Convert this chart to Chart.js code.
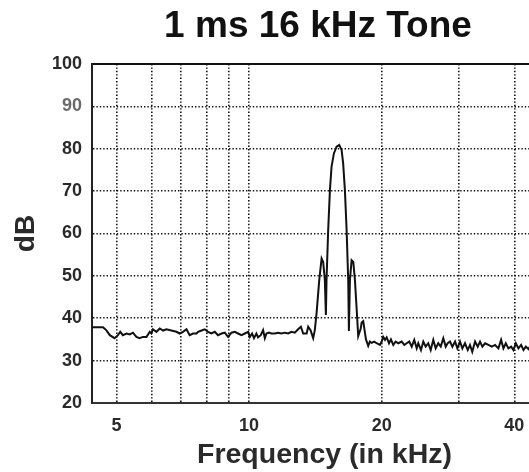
<!DOCTYPE html>
<html>
<head>
<meta charset="utf-8">
<title>1 ms 16 kHz Tone</title>
<script src="https://cdn.jsdelivr.net/npm/chart.js@4.4.1/dist/chart.umd.min.js"></script>
<style>
    html, body { margin: 0; padding: 0; background: #fff; overflow: hidden; }
    .containerGraphic { position: relative; width: 636px; height: 472px; }
</style>
</head>
<body>
<div class="containerGraphic">
    <canvas id="toneChart" width="636" height="472"></canvas>
</div>
<script>
// spectrum of the 1 ms tone burst (frequency in kHz, level in dB)
const freqKHz = [
    4.4, 4.66, 4.74, 4.83, 4.95, 5.04, 5.10, 5.17, 5.27, 5.36, 5.45, 5.55, 5.64, 5.74, 5.85, 5.95,
    6.00, 6.05, 6.16, 6.27, 6.38, 6.49, 6.66, 6.84, 6.96, 7.08, 7.21, 7.33, 7.46, 7.60, 7.66, 7.80,
    7.93, 8.07, 8.21, 8.36, 8.50, 8.66, 8.81, 8.96, 9.12, 9.28, 9.44, 9.61, 9.78, 9.95, 10.04, 10.16,
    10.26, 10.39, 10.48, 10.63, 10.76, 10.86, 10.95, 11.09, 11.24, 11.44, 11.64, 11.85, 12.05, 12.27,
    12.48, 12.70, 12.92, 13.11, 13.27, 13.51, 13.62, 13.79, 13.98, 14.10, 14.23, 14.43, 14.61, 14.73,
    14.86, 14.94, 14.99, 15.12, 15.26, 15.39, 15.58, 15.80, 16.02, 16.22, 16.35, 16.50, 16.65, 16.79,
    16.85, 16.94, 17.09, 17.24, 17.39, 17.55, 17.69, 17.92, 18.01, 18.16, 18.42, 18.64, 18.80, 18.97,
    19.23, 19.48, 19.82, 20.00, 20.16, 20.35, 20.53, 20.78, 20.99, 21.25, 21.51, 21.81, 22.20, 22.51,
    22.79, 23.10, 23.40, 23.71, 24.02, 24.22, 24.56, 24.86, 25.17, 25.51, 25.84, 26.19, 26.52, 26.88,
    27.23, 27.60, 27.95, 28.24, 28.58, 28.94, 29.35, 29.70, 30.12, 30.49, 30.91, 31.36, 31.73, 32.11,
    32.58, 33.04, 33.44, 33.85, 34.34, 34.94, 35.56, 36.18, 36.81, 37.33, 37.79, 38.26, 38.79, 39.35,
    39.81, 40.32, 40.87, 41.45, 41.96, 42.49, 43.07, 43.7, 44.4, 45.1, 45.9, 46.7, 47.5, 48.3, 49.2, 50
];
const levelDb = [
    37.9, 37.9, 37.2, 36.0, 35.3, 36.0, 36.8, 36.0, 36.4, 36.2, 36.6, 35.6, 35.3, 35.6, 35.6, 36.8,
    36.4, 37.4, 36.8, 37.6, 37.1, 37.4, 37.1, 36.8, 36.4, 36.8, 37.4, 36.0, 36.4, 36.4, 36.8, 37.1,
    37.4, 36.8, 36.4, 36.8, 36.0, 36.4, 36.6, 35.6, 36.6, 36.8, 36.4, 36.0, 36.4, 36.8, 35.6, 36.4,
    35.3, 36.4, 35.5, 36.0, 37.2, 35.3, 36.4, 36.6, 36.4, 36.4, 36.6, 36.4, 36.6, 36.4,
    36.8, 36.6, 37.4, 38.0, 36.4, 36.4, 38.0, 37.2, 35.3, 37.2, 41.2, 49.0, 54.1, 53.3,
    49.0, 40.8, 49.0, 60.8, 70.3, 75.8, 78.9, 80.5, 80.9, 79.7, 76.6, 70.3, 60.8, 49.0,
    37.0, 49.0, 53.7, 53.3, 49.0, 42.0, 35.8, 37.5, 39.0, 39.3, 35.0, 33.5, 34.5, 34.2,
    34.5, 34.1, 33.7, 34.5, 35.6, 34.9, 35.5, 34.1, 35.0, 33.7, 34.5, 34.1, 34.5, 33.7,
    34.1, 34.5, 33.3, 34.9, 32.9, 34.1, 32.5, 34.5, 33.3, 34.1, 32.5, 34.9, 32.9, 34.1,
    33.3, 35.3, 33.3, 34.1, 34.5, 33.3, 34.5, 32.9, 34.5, 32.9, 34.1, 32.5, 33.7, 32.1,
    34.5, 33.3, 34.5, 33.3, 34.1, 33.7, 33.3, 33.7, 32.9, 34.9, 32.9, 34.1, 32.9, 33.3,
    32.5, 34.1, 32.9, 33.7, 32.5, 33.3, 32.7, 33.9, 32.8, 33.6, 32.6, 33.5, 32.7, 33.4, 32.8, 33.2
];

// vertical grid lines and which of them carry a label
const xGridTicks = [5, 6, 7, 8, 9, 10, 20, 30, 40, 50];
const xTickLabels = [5, 10, 20, 40];
const yTicks = [20, 30, 40, 50, 60, 70, 80, 90, 100];

const chartTitle = '1 ms 16 kHz Tone';
const fontFamily = "'Liberation Sans', Arial, sans-serif";
const dots = [1.4, 2];

const points = freqKHz.map((f, i) => ({ x: f, y: levelDb[i] }));

// heading centred on the whole canvas
const headingPlugin = {
    id: 'heading',
    afterDraw(chart) {
        const c = chart.ctx;
        c.save();
        c.font = `bold 37px ${fontFamily}`;
        c.fillStyle = '#111';
        c.textAlign = 'center';
        c.textBaseline = 'alphabetic';
        c.fillText(chartTitle, chart.width / 2, 37);
        c.restore();
    }
};

const ctx = document.getElementById('toneChart').getContext('2d');

new Chart(ctx, {
    type: 'scatter',
    data: {
        datasets: [{
            data: points,
            showLine: true,
            borderColor: '#111',
            borderWidth: 2,
            pointRadius: 0,
            tension: 0
        }]
    },
    options: {
        responsive: false,
        animation: false,
        devicePixelRatio: 1,
        layout: { padding: { left: 0, right: 79, top: 64, bottom: 0 } },
        plugins: {
            legend: { display: false },
            tooltip: { enabled: false },
            title: { display: false }
        },
        scales: {
            x: {
                type: 'logarithmic',
                min: 4.4,
                max: 50,
                afterBuildTicks: scale => {
                    scale.ticks = xGridTicks.map(v => ({ value: v }));
                },
                afterFit: scale => { scale.height = 69; },
                ticks: {
                    autoSkip: false,
                    maxRotation: 0,
                    padding: 12,
                    color: '#2a2a2a',
                    font: { family: fontFamily, size: 18, weight: 'bold' },
                    callback: value => xTickLabels.includes(value) ? String(value) : ''
                },
                grid: {
                    drawTicks: false,
                    color: c => c.tick && c.tick.value === 50 ? 'rgba(0,0,0,0)' : '#111',
                    lineWidth: 1.6
                },
                border: { display: true, color: '#333', width: 2, dash: dots },
                title: {
                    display: true,
                    text: 'Frequency (in kHz)',
                    color: '#2a2a2a',
                    font: { family: fontFamily, size: 28.5, weight: 'bold' },
                    padding: { top: 0, bottom: 0 }
                }
            },
            xTop: {
                type: 'logarithmic',
                position: 'top',
                min: 4.4,
                max: 50,
                afterFit: scale => { scale.height = 0; },
                ticks: { display: false },
                grid: { display: false, drawTicks: false },
                border: { display: true, color: '#111', width: 2 }
            },
            y: {
                min: 20,
                max: 100,
                afterBuildTicks: scale => {
                    scale.ticks = yTicks.map(v => ({ value: v }));
                },
                afterFit: scale => { scale.width = 92; },
                ticks: {
                    padding: 10,
                    color: c => c.tick.value === 90 ? '#6b6b6b' : '#2a2a2a',
                    font: { family: fontFamily, size: 18, weight: 'bold' }
                },
                grid: {
                    drawTicks: false,
                    color: c => (c.tick && (c.tick.value === 20 || c.tick.value === 100)) ? 'rgba(0,0,0,0)' : '#111',
                    lineWidth: 1.6
                },
                border: { display: true, color: '#222', width: 2, dash: dots },
                title: {
                    display: true,
                    text: 'dB',
                    color: '#2a2a2a',
                    font: { family: fontFamily, size: 28, weight: 'bold' },
                    padding: { top: 9, bottom: 0 }
                }
            }
        }
    },
    plugins: [headingPlugin]
});
</script>
</body>
</html>
